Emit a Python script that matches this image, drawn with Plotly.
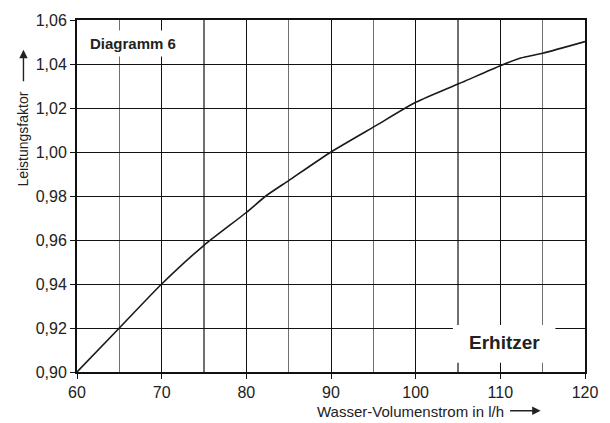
import plotly.graph_objects as go

# Data
flow = [60, 65, 70, 75, 80, 82.3, 85, 90, 95, 95.7, 100, 105, 105.8, 110, 112.4, 115, 120]
factor = [0.900, 0.920, 0.940, 0.9576, 0.9725, 0.980, 0.987, 1.000, 1.0113, 1.0129,
          1.0226, 1.0309, 1.0322, 1.0392, 1.0427, 1.0449, 1.0502]

x_title = "Wasser-Volumenstrom in l/h"
y_title = "Leistungsfaktor"
diagram_label = "Diagramm 6"
curve_label = "Erhitzer"

FONT = "Liberation Sans, Arial, sans-serif"

fig = go.Figure()
fig.add_trace(go.Scatter(x=flow, y=factor, mode="lines",
                         line=dict(color="#1a1a1a", width=1.6, shape="spline", smoothing=0.6),
                         hoverinfo="skip", showlegend=False))

fig.update_layout(
    width=610, height=423,
    margin=dict(l=77, r=18, t=18, b=51),
    paper_bgcolor="white", plot_bgcolor="white",
    separators=",.",
    font=dict(family=FONT, size=15, color="#222"),
    showlegend=False,
    hovermode=False,
)

fig.update_xaxes(
    range=[60, 120], dtick=10, tick0=60,
    showgrid=True, gridcolor="#111", gridwidth=1,
    minor=dict(dtick=5, tick0=60, showgrid=True, gridcolor="#707070", gridwidth=1.3, ticks=""),
    showline=True, linecolor="#111", linewidth=2, mirror=True,
    ticks="outside", ticklen=5, tickcolor="#111", tickwidth=1,
    tickfont=dict(family=FONT, size=16, color="#222"),
    zeroline=False, fixedrange=True,
)
fig.update_yaxes(
    range=[0.90, 1.06], dtick=0.02, tick0=0.90, tickformat=".2f",
    showgrid=True, gridcolor="#111", gridwidth=1,
    showline=True, linecolor="#111", linewidth=2, mirror=True,
    ticks="outside", ticklen=5, tickcolor="#111", tickwidth=1,
    tickfont=dict(family=FONT, size=16, color="#222"),
    zeroline=False, fixedrange=True,
)

# Diagram label with white background covering the grid
fig.add_annotation(x=66.6, y=1.0495, xref="x", yref="y", text="<b>" + diagram_label + "</b>",
                   showarrow=False, font=dict(family=FONT, size=15, color="#222"),
                   bgcolor="white", borderpad=4)

# Curve label with white box
fig.add_shape(type="rect", xref="x", yref="y", x0=104.4, x1=116.5, y0=0.9042, y1=0.9214,
              fillcolor="white", line=dict(width=0), layer="above")
fig.add_annotation(x=110.5, y=0.9132, xref="x", yref="y", text="<b>" + curve_label + "</b>",
                   showarrow=False, font=dict(family=FONT, size=19, color="#222"))

# X axis title with arrow (paper coords = plot area fractions)
fig.add_annotation(x=0.6563, y=-0.1116, xref="paper", yref="paper", text=x_title,
                   showarrow=False, font=dict(family=FONT, size=15, color="#222"),
                   xanchor="center", yanchor="middle")
fig.add_annotation(x=0.9126, y=-0.1102, ax=-32, ay=0,
                   xref="paper", yref="paper",
                   text="", showarrow=True, arrowhead=2, arrowsize=1.2, arrowwidth=1.4,
                   arrowcolor="#222")

# Y axis title with arrow
fig.add_annotation(x=-0.1058, y=0.661, xref="paper", yref="paper", text=y_title,
                   showarrow=False, textangle=-90, font=dict(family=FONT, size=14, color="#222"),
                   xanchor="center", yanchor="middle")
fig.add_annotation(x=-0.1054, y=0.9153, ax=0, ay=33,
                   xref="paper", yref="paper",
                   text="", showarrow=True, arrowhead=2, arrowsize=1.2, arrowwidth=1.4,
                   arrowcolor="#222")

fig.write_html("out.html",
               config={"displayModeBar": False, "staticPlot": True},
               post_script="document.body.style.margin='0';document.body.style.overflow='hidden';")
